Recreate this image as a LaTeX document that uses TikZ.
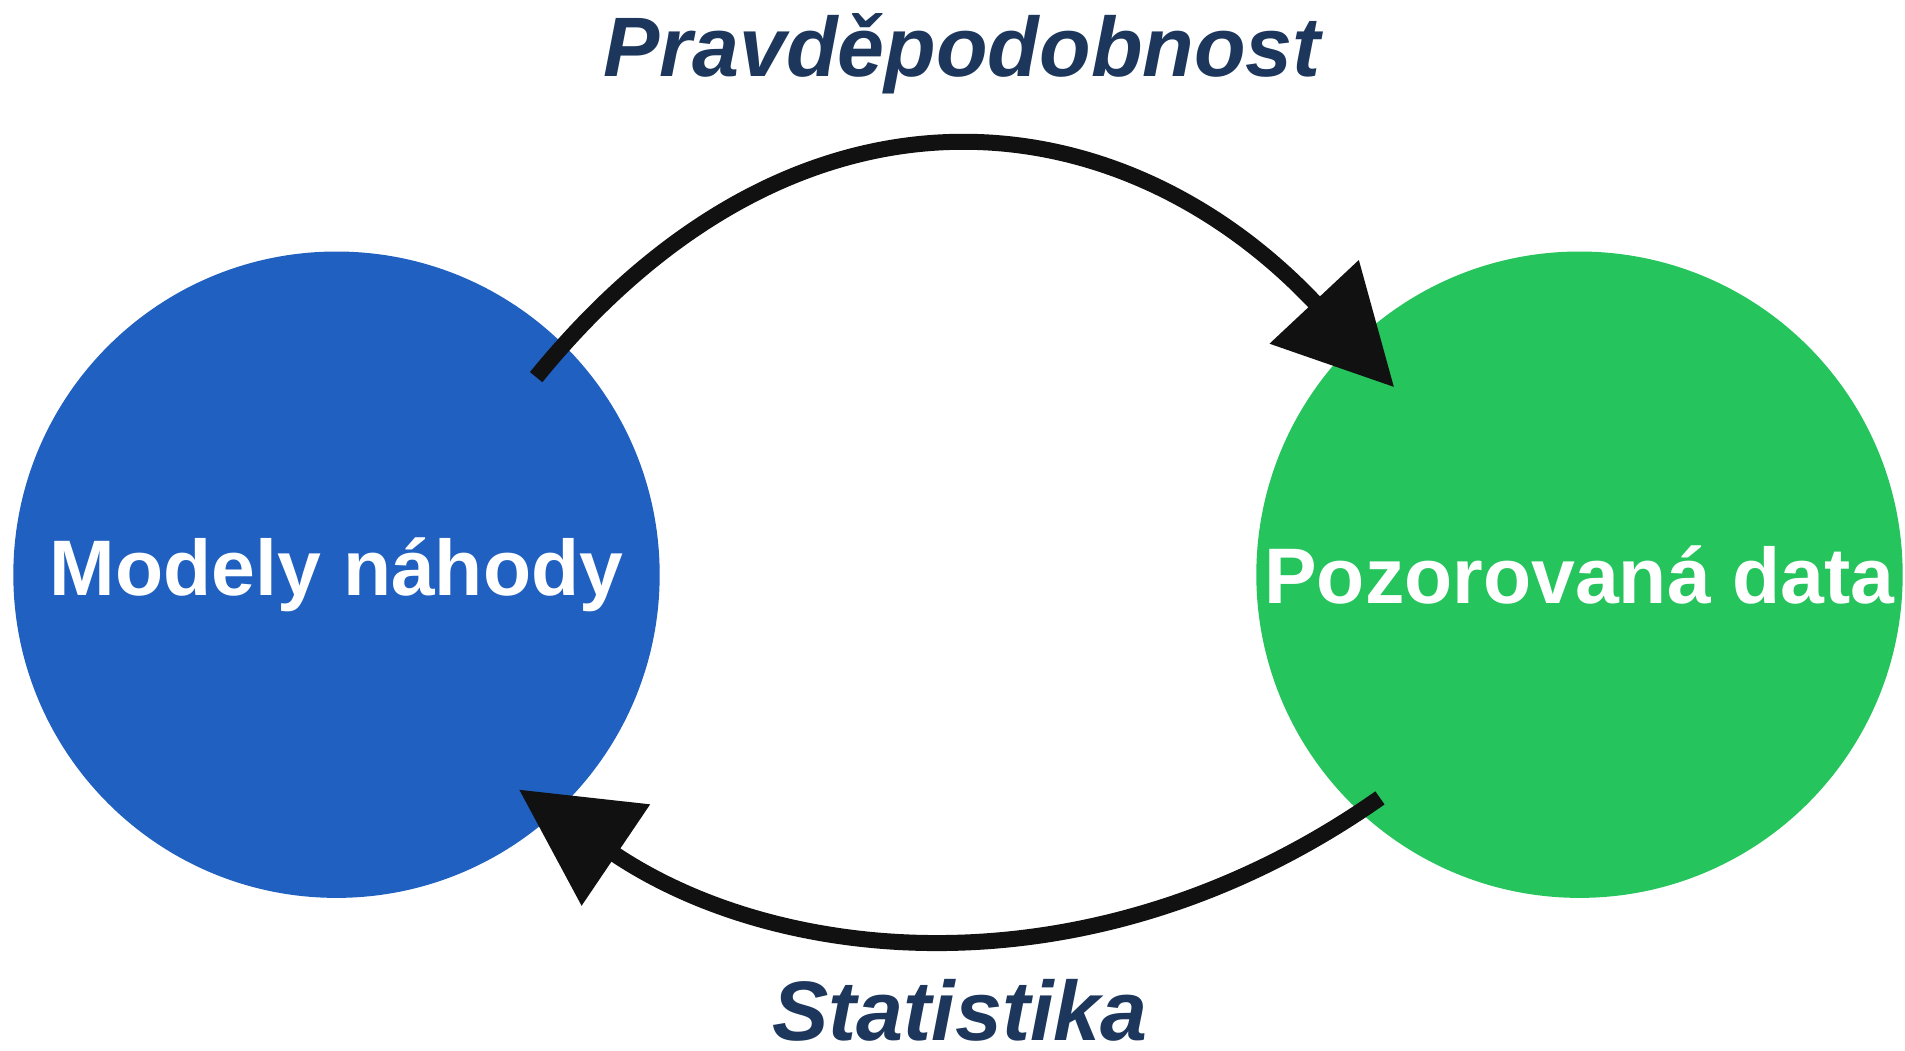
\documentclass[tikz,border=0pt]{standalone}
\usepackage{fontspec}
\setmainfont{Liberation Sans}
\usepackage{tikz}
\usetikzlibrary{positioning,arrows.meta,calc}
\definecolor{modelblue}{HTML}{2060C0}
\definecolor{datagreen}{HTML}{26C45C}
\definecolor{labelnavy}{HTML}{1C365C}
\definecolor{arrowblack}{HTML}{111111}

\begin{document}
\begin{tikzpicture}[x=0.01cm, y=0.01cm,
  blob/.style={circle, minimum size=6.46cm, inner sep=0pt, text=white,
    font=\fontsize{22.4}{26}\selectfont\bfseries},
  link/.style={line width=0.16cm, draw=arrowblack, shorten >=-1.17cm,
    -{Triangle[length=1.17cm, width=1.18cm]}},
  caption/.style={anchor=base, text=labelnavy,
    font=\fontsize{24}{28}\selectfont\bfseries\itshape}]
\useasboundingbox (0,0) rectangle (1905,1050);
% circles
\node[blob, fill=modelblue] (model) at (336.5,475.3) {Modely náhody};
\node[blob, fill=datagreen] (data) at (1579.5,475.3) {Pozorovaná data};
% arrow ends (start inside a circle, base of the tip)
\coordinate (pstart) at ($(model.center)+(44.7:280.9)$);
\coordinate (pbase) at ($(data.center)+(134.2:380.6)$);
\coordinate (sstart) at ($(data.center)+(228.2:299.4)$);
\coordinate (sbase) at ($(model.center)+(-45.1:395.8)$);
% arrows
\draw[link] (pstart) .. controls (802,999) and (1125,950) .. (pbase);
\draw[link] (sstart) .. controls (1098,54) and (783,82) .. (sbase);
% labels
\node[caption] (prob) at (962,973.5) {Pravděpodobnost};
\node[caption] (stat) at (960,10) {Statistika};
\end{tikzpicture}
\end{document}
